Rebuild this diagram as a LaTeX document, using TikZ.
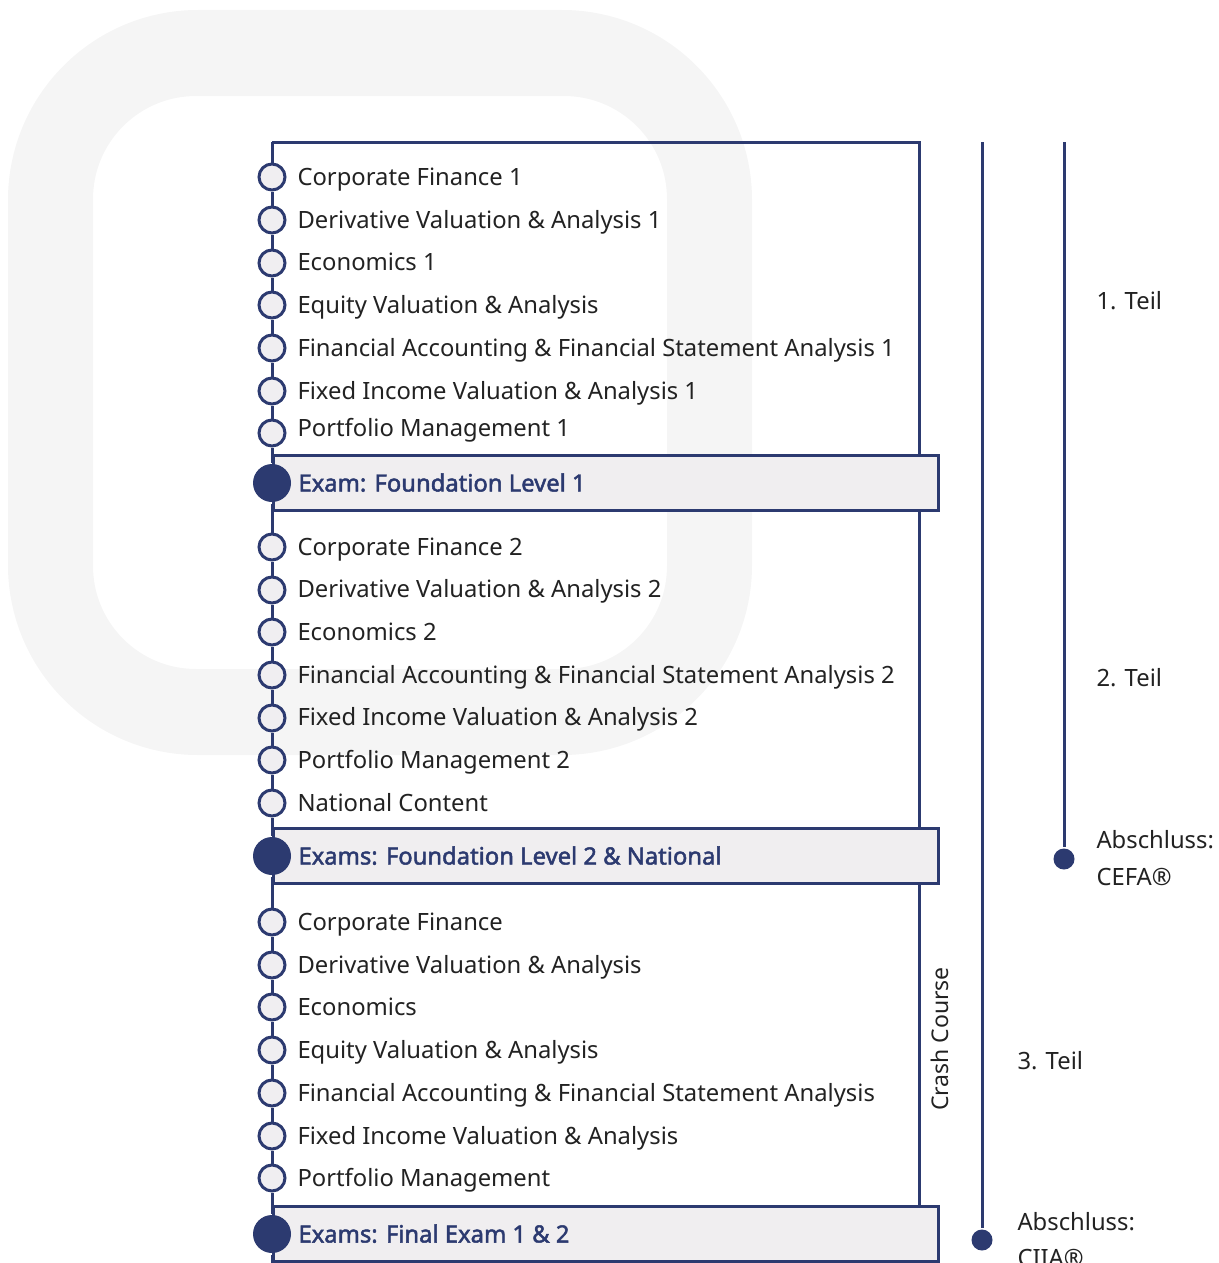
\documentclass[tikz,border=0pt]{standalone}
\usepackage{fontspec}
\setmainfont{Noto Sans}
\newfontfamily\examfont[FakeBold=2]{Noto Sans}
\definecolor{navy}{HTML}{2C3A70}
\definecolor{ring}{HTML}{F5F5F5}
\definecolor{dotfill}{HTML}{F0EEF1}
\definecolor{boxfill}{HTML}{F0EEF0}
\definecolor{txt}{HTML}{222222}
\begin{document}
\begin{tikzpicture}[x=1pt,y=-1pt,line width=3pt,
  item/.style={circle,draw=navy,fill=dotfill,line width=3pt,minimum size=26pt,inner sep=0pt},
  examdot/.style={circle,fill=navy,minimum size=38pt,inner sep=0pt},
  enddot/.style={circle,fill=navy,minimum size=21pt,inner sep=0pt},
  lbl/.style={anchor=base west,text=txt,inner sep=0pt,font=\fontsize{23.8}{28}\selectfont},
  examlbl/.style={anchor=base west,text=navy,inner sep=0pt,font=\fontsize{23.8}{28}\examfont},
  exambox/.style={draw=navy,fill=boxfill,line width=3pt,minimum width=665pt,minimum height=55pt,anchor=west,inner sep=0pt},
  conn/.style={draw=navy,line width=3pt}]
\useasboundingbox (0,0) rectangle (1218,1263);
\clip (0,0) rectangle (1218,1263);
% background ring
\fill[ring,even odd rule,rounded corners=190pt] (8,10) rectangle (752,755) [rounded corners=103pt] (93,96) rectangle (667,669);

% exam boxes
\node[exambox] (x1) at (272,483) {};
\node[exambox] (x2) at (272,856) {};
\node[exambox] (x3) at (272,1234) {};
\node[examlbl] (xl1) at (297,491.5) {Exam: Foundation Level 1};
\node[examlbl] (xl2) at (297,864.5) {Exams: Foundation Level 2 \& National};
\node[examlbl] (xl3) at (297,1242.5) {Exams: Final Exam 1 \& 2};

% frame
\coordinate (tl) at (272,142);
\coordinate (tr) at (919,142);
\coordinate (bot) at (272,1263);
\draw[conn] (tl) -- (tr) -- (tr |- x1.north);
\draw[conn] (tr |- x1.south) -- (tr |- x2.north);
\draw[conn] (tr |- x2.south) -- (tr |- x3.north);

% items
\foreach \cy/\ty/\t [count=\i] in {177/177/Corporate Finance 1,220/220/Derivative Valuation \& Analysis 1,263/262/Economics 1,305/305/Equity Valuation \& Analysis,348/348/Financial Accounting \& Financial Statement Analysis 1,391/391/Fixed Income Valuation \& Analysis 1,433/428/Portfolio Management 1}{
  \node[item] (a\i) at (272,\cy) {};
  \node[lbl] (at\i) at (296,\ty+8.5) {\t};
}
\foreach \cy/\ty/\t [count=\i] in {547/547/Corporate Finance 2,590/589/Derivative Valuation \& Analysis 2,632/632/Economics 2,675/675/Financial Accounting \& Financial Statement Analysis 2,718/717/Fixed Income Valuation \& Analysis 2,760/760/Portfolio Management 2,803/803/National Content}{
  \node[item] (b\i) at (272,\cy) {};
  \node[lbl] (bt\i) at (296,\ty+8.5) {\t};
}
\foreach \cy/\ty/\t [count=\i] in {922/922/Corporate Finance,965/965/Derivative Valuation \& Analysis,1007/1007/Economics,1050/1050/Equity Valuation \& Analysis,1093/1093/Financial Accounting \& Financial Statement Analysis,1136/1136/Fixed Income Valuation \& Analysis,1178/1178/Portfolio Management}{
  \node[item] (c\i) at (272,\cy) {};
  \node[lbl] (ct\i) at (296,\ty+8.5) {\t};
}
\node[examdot] (e1) at (272,483) {};
\node[examdot] (e2) at (272,856) {};
\node[examdot] (e3) at (272,1234) {};

% left chain
\draw[conn] (tl) -- (a1);
\foreach \i [evaluate=\i as \j using int(\i+1)] in {1,...,6}{
  \draw[conn] (a\i) -- (a\j);
  \draw[conn] (b\i) -- (b\j);
  \draw[conn] (c\i) -- (c\j);
}
\draw[conn] (a7) -- (e1);
\draw[conn] (e1) -- (b1);
\draw[conn] (b7) -- (e2);
\draw[conn] (e2) -- (c1);
\draw[conn] (c7) -- (e3);
\draw[conn] (e3) -- (bot);

% crash course
\node[rotate=90,text=txt,inner sep=0pt,font=\fontsize{23}{27}\selectfont] (cc) at (940,1039) {Crash Course};

% right timelines
\coordinate (r1top) at (982,142);
\node[enddot] (r1end) at (982,1240) {};
\draw[conn] (r1top) -- (r1end);
\coordinate (r2top) at (1064,142);
\node[enddot] (r2end) at (1064,859) {};
\draw[conn] (r2top) -- (r2end);

\node[lbl] (t1) at (1095,309.5) {1. Teil};
\node[lbl] (t2) at (1095,686.5) {2. Teil};
\node[lbl] (t3) at (1016,1069.5) {3. Teil};
\node[lbl] (ab1) at (1095,848.5) {Abschluss:};
\node[lbl] (ce) at (1095,885.5) {CEFA®};
\node[lbl] (ab2) at (1016,1230.5) {Abschluss:};
\node[lbl] (ci) at (1016,1266.5) {CIIA®};
\end{tikzpicture}
\end{document}
